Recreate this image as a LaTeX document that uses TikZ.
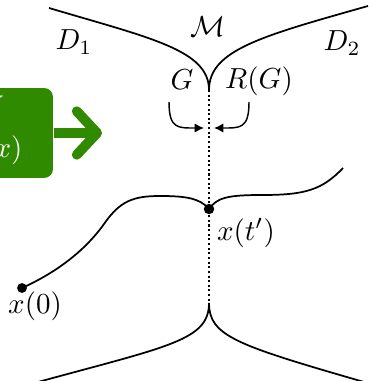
\documentclass[tikz,border=0pt]{standalone}
\usetikzlibrary{arrows.meta}
\definecolor{boxgreen}{RGB}{48,138,0}
\begin{document}
\begin{tikzpicture}[x=0.345pt,y=-0.345pt,
  curve/.style={line width=0.6pt},
  axisline/.style={line width=0.55pt,dash pattern=on 0.7pt off 0.9pt},
  hookarrow/.style={line width=0.5pt,-{Latex[length=3.2pt,width=3.2pt]}},
  dotmark/.style={circle,fill=black,inner sep=0pt,minimum size=#1},
  lbl/.style={inner sep=1pt},
  greenbox/.style={fill=boxgreen,rounded corners=3pt,inner sep=0pt},
  greenarrow/.style={draw=boxgreen,line width=3.4pt,-{Straight Barb[length=7pt,width=15pt,round]}},
  boxtext/.style={text=white,inner sep=0pt}]
\useasboundingbox (0,0) rectangle (368,381);
% boundary curves
\coordinate (ctop) at (209,90);
\coordinate (cbot) at (209,303);
\coordinate (tl) at (49,8);
\coordinate (tr) at (368,6);
\coordinate (bl) at (38,382);
\coordinate (br) at (364,382);
\draw[curve] (tl) .. controls (150,38) and (209,50) .. (ctop)
             .. controls (209,50) and (262,36) .. (tr);
\draw[curve] (bl) .. controls (170,346) and (209,340) .. (cbot)
             .. controls (209,336) and (236,345) .. (br);
% dotted axis
\draw[axisline] (ctop) -- (cbot);
% labels
\node[lbl] (D1) at (74,42) {$D_1$};
\node[lbl] (D2) at (342,43) {$D_2$};
\node[lbl] (M) at (208,27) {$\mathcal{M}$};
\node[lbl] (G) at (182,80) {$G$};
\node[lbl] (RG) at (259,81) {$R(G)$};
% hook arrows
\coordinate (hl) at (169,102);
\coordinate (hlt) at (204,128);
\coordinate (hr) at (249,102);
\coordinate (hrt) at (214,128);
\draw[hookarrow] (hl) .. controls (169,129) and (178,128) .. (hlt);
\draw[hookarrow] (hr) .. controls (249,129) and (240,128) .. (hrt);
% trajectory
\node[dotmark=3.4pt] (x0) at (22,288) {};
\node[dotmark=3.6pt] (xt) at (209,209) {};
\coordinate (tend) at (343,168);
\draw[curve] (x0.center) .. controls (55,273) and (84,252) .. (104,224)
   .. controls (120,201) and (133,196) .. (160,196)
   .. controls (185,196) and (200,198) .. (xt.center)
   .. controls (217,198) and (226,195) .. (262,195)
   .. controls (305,195) and (322,190) .. (tend);
\node[lbl] (lx0) at (35,306) {$x(0)$};
\node[lbl] (lxt) at (246,233) {$x(t')$};
% green box
\node[greenbox,minimum width=42.4pt,minimum height=31pt] (box) at (-8.5,133) {};
\node[boxtext,anchor=base east] (bt1) at (4,109) {Symmetry};
\node[boxtext,anchor=base east] (bt2) at (23,158) {$x\mapsto R(x)$};
\coordinate (atip) at (102,133);
\draw[greenarrow] (box.east) -- (atip);
\end{tikzpicture}
\end{document}
